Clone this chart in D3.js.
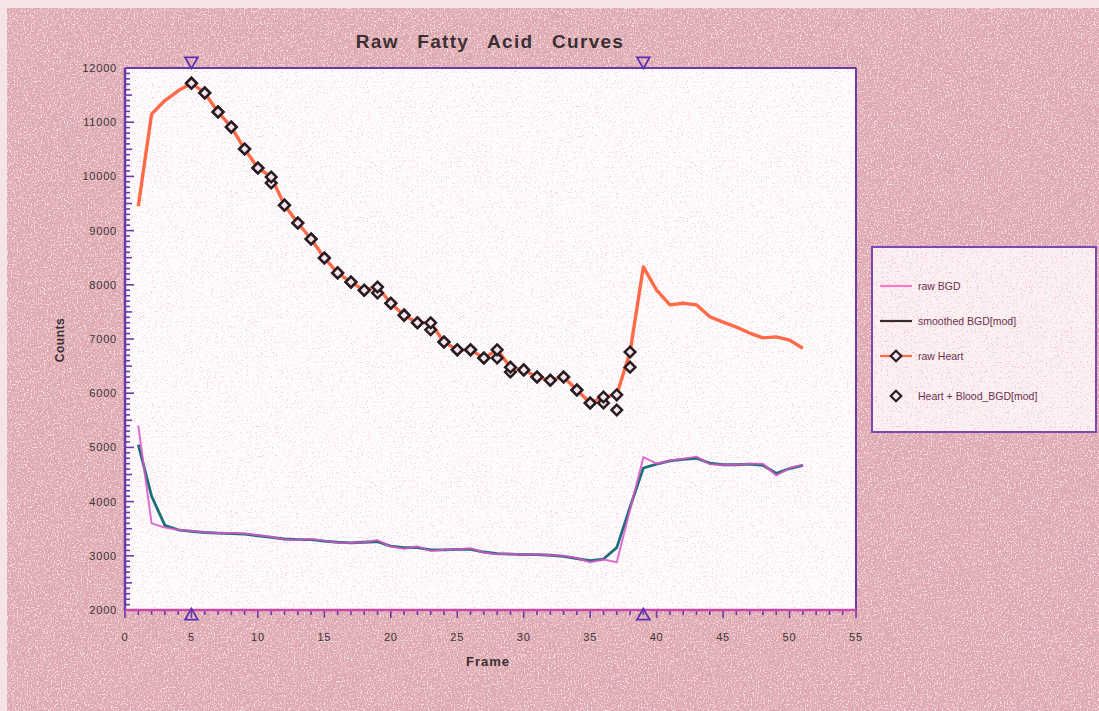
<!DOCTYPE html>
<html>
<head>
<meta charset="utf-8">
<script src="https://cdn.jsdelivr.net/npm/d3@7/dist/d3.min.js"></script>
<style>
  html, body { margin: 0; padding: 0; background: #f4e4e6; }
  svg { display: block; }
  text { font-family: "Liberation Sans", Arial, sans-serif; }
</style>
</head>
<body>
<svg></svg>
<script>
// frames and series
const frames = d3.range(1, 52);
const rawBGD = [5400, 3600, 3520, 3480, 3460, 3430, 3420, 3420, 3410, 3380,
  3350, 3300, 3290, 3310, 3280, 3240, 3240, 3250, 3290, 3170,
  3130, 3170, 3090, 3110, 3120, 3140, 3060, 3030, 3040, 3020,
  3030, 3010, 3000, 2960, 2880, 2930, 2880, 3850, 4820, 4700,
  4760, 4790, 4830, 4690, 4680, 4680, 4700, 4700, 4480, 4620, 4680];
const smoothBGD = [5050, 4100, 3560, 3480, 3450, 3430, 3420, 3410, 3400, 3370,
  3340, 3310, 3300, 3300, 3270, 3250, 3240, 3250, 3260, 3180,
  3150, 3150, 3110, 3110, 3120, 3120, 3070, 3040, 3030, 3020,
  3020, 3010, 2990, 2950, 2910, 2940, 3150, 3900, 4620, 4690,
  4750, 4780, 4800, 4710, 4680, 4680, 4690, 4670, 4520, 4610, 4670];
const rawHeart = [9450, 11150, 11400, 11580, 11720, 11540, 11190, 10910, 10505, 10155,
  9990, 9470, 9140, 8845, 8495, 8220, 8050, 7900, 7960, 7660,
  7440, 7300, 7300, 6945, 6800, 6800, 6650, 6800, 6480, 6430,
  6300, 6240, 6300, 6060, 5820, 5930, 5970, 6760, 8330, 7900,
  7630, 7660, 7630, 7410, 7310, 7220, 7110, 7020, 7040, 6980, 6830];
// diamond markers only between the two frame cursors
const markFrames = d3.range(5, 39);
const heartBlood = [11720, 11540, 11190, 10910, 10505, 10155, 9880, 9470, 9140, 8845,
  8495, 8220, 8050, 7900, 7850, 7660, 7440, 7300, 7170, 6945,
  6800, 6800, 6650, 6650, 6390, 6430, 6300, 6240, 6300, 6060,
  5820, 5820, 5690, 6480];
const cursors = [5, 39];
const xTicks = d3.range(0, 56, 5);
const yTicks = d3.range(2000, 12001, 1000);
const legendItems = ["raw BGD", "smoothed BGD[mod]", "raw  Heart", "Heart + Blood_BGD[mod]"];

const W = 1099, H = 711;
const svg = d3.select("svg").attr("width", W).attr("height", H);

const L = 125, R = 856, T = 68, B = 610;
const x = d3.scaleLinear().domain([0, 55]).range([L, R]);
const y = d3.scaleLinear().domain([2000, 12000]).range([B, T]);

// speckle textures
const defs = svg.append("defs");
function speckle(id, seed, freq, color, a, b) {
  const f = defs.append("filter").attr("id", id)
    .attr("x", 0).attr("y", 0).attr("width", "100%").attr("height", "100%");
  f.append("feTurbulence").attr("type", "fractalNoise")
    .attr("baseFrequency", freq).attr("numOctaves", 2).attr("seed", seed).attr("result", "n");
  const c = d3.color(color);
  f.append("feColorMatrix").attr("in", "n").attr("type", "matrix")
    .attr("values", `0 0 0 0 ${c.r/255} 0 0 0 0 ${c.g/255} 0 0 0 0 ${c.b/255} ${a} 0 0 0 ${b}`);
}
speckle("lightN", 3, 0.7, "#fff4f4", -5, 2.4);
speckle("darkN", 7, 0.8, "#a08080", 5, -2.85);
speckle("plotN", 11, 0.8, "#e07090", 6, -3.6);

// page background
svg.append("rect").attr("x", 7).attr("y", 8).attr("width", W - 7).attr("height", H - 8)
  .attr("fill", "#e0a8b0");
svg.append("rect").attr("x", 7).attr("y", 8).attr("width", W - 7).attr("height", H - 8)
  .attr("fill", "#fff").attr("filter", "url(#lightN)").attr("opacity", 0.75);
svg.append("rect").attr("x", 7).attr("y", 8).attr("width", W - 7).attr("height", H - 8)
  .attr("fill", "#fff").attr("filter", "url(#darkN)").attr("opacity", 0.45);

// plot area
svg.append("rect").attr("x", L).attr("y", T).attr("width", R - L).attr("height", B - T)
  .attr("fill", "#fdfbfb");
svg.append("rect").attr("x", L).attr("y", T).attr("width", R - L).attr("height", B - T)
  .attr("fill", "#fff").attr("filter", "url(#plotN)").attr("opacity", 0.6);

// title
svg.append("text").attr("x", 490).attr("y", 48).attr("text-anchor", "middle")
  .attr("font-size", 19).attr("font-weight", "bold").attr("fill", "#3a3034")
  .attr("word-spacing", 12).attr("letter-spacing", 1.3)
  .text("Raw Fatty Acid Curves");

// axes
const yAxis = svg.append("g");
yAxis.selectAll("line.minor").data(d3.range(2000, 12001, 100)).join("line")
  .attr("x1", L).attr("x2", d => L + (d % 1000 === 0 ? 9 : d % 500 === 0 ? 7 : 5))
  .attr("y1", d => y(d)).attr("y2", d => y(d))
  .attr("stroke", "#6a3aa8").attr("stroke-width", 1.6);
yAxis.selectAll("text").data(yTicks).join("text")
  .attr("x", L - 8).attr("y", d => y(d) + 4).attr("text-anchor", "end")
  .attr("font-size", 11).attr("fill", "#3a3438").attr("letter-spacing", 0.8)
  .text(d => d);

const xAxis = svg.append("g");
xAxis.selectAll("line").data(d3.range(0, 56, 1)).join("line")
  .attr("x1", d => x(d)).attr("x2", d => x(d))
  .attr("y1", B).attr("y2", d => B + (d % 5 === 0 ? 8 : 5))
  .attr("stroke", "#6a3aa8").attr("stroke-width", 1.6);
xAxis.selectAll("text").data(xTicks).join("text")
  .attr("x", d => x(d)).attr("y", 641).attr("text-anchor", "middle")
  .attr("font-size", 11).attr("fill", "#3a3438").attr("letter-spacing", 0.8)
  .text(d => d);

// frame
svg.append("line").attr("x1", L).attr("x2", R).attr("y1", T).attr("y2", T)
  .attr("stroke", "#6a3aa8").attr("stroke-width", 2);
svg.append("line").attr("x1", R).attr("x2", R).attr("y1", T).attr("y2", B)
  .attr("stroke", "#6a3aa8").attr("stroke-width", 2);
svg.append("line").attr("x1", L).attr("x2", L).attr("y1", T).attr("y2", B + 1)
  .attr("stroke", "#6a3aa8").attr("stroke-width", 2.5);
svg.append("line").attr("x1", L).attr("x2", R).attr("y1", B).attr("y2", B)
  .attr("stroke", "#c84aa8").attr("stroke-width", 2.5);

// axis titles
svg.append("text").attr("transform", "translate(64,340) rotate(-90)")
  .attr("text-anchor", "middle").attr("font-size", 12).attr("font-weight", "bold")
  .attr("fill", "#3a3034").attr("letter-spacing", 0.5).text("Counts");
svg.append("text").attr("x", 488).attr("y", 666).attr("text-anchor", "middle")
  .attr("font-size", 13).attr("font-weight", "bold").attr("fill", "#3a3034")
  .attr("letter-spacing", 1).text("Frame");

// cursors
const tri = d3.symbol().type(d3.symbolTriangle).size(70);
svg.selectAll("path.ctop").data(cursors).join("path").attr("class", "ctop")
  .attr("d", tri).attr("transform", d => `translate(${x(d)},${T - 7}) rotate(180)`)
  .attr("fill", "none").attr("stroke", "#5a30b0").attr("stroke-width", 1.8);
svg.selectAll("path.cbot").data(cursors).join("path").attr("class", "cbot")
  .attr("d", tri).attr("transform", d => `translate(${x(d)},${B + 6})`)
  .attr("fill", "none").attr("stroke", "#5a30b0").attr("stroke-width", 1.8);

// curves
const line = vals => d3.line().x((d, i) => x(frames[i])).y(d => y(d))(vals);
svg.append("path").attr("d", line(smoothBGD)).attr("fill", "none")
  .attr("stroke", "#1e6f7a").attr("stroke-width", 2.8).attr("stroke-linejoin", "round");
svg.append("path").attr("d", line(rawBGD)).attr("fill", "none")
  .attr("stroke", "#d856c8").attr("stroke-width", 2).attr("stroke-linejoin", "round")
  .attr("opacity", 0.85);
svg.append("path").attr("d", line(rawHeart)).attr("fill", "none")
  .attr("stroke", "#ff6a48").attr("stroke-width", 3.4).attr("stroke-linejoin", "round");

const diamond = d3.symbol().type(d3.symbolSquare).size(56);
const drawDiamonds = (vals, cls) => svg.selectAll("path." + cls).data(vals).join("path")
  .attr("class", cls).attr("d", diamond)
  .attr("transform", (d, i) => `translate(${x(markFrames[i])},${y(d)}) rotate(45)`)
  .attr("fill", "#f6e6ea").attr("stroke", "#2a1c24").attr("stroke-width", 2.5);
drawDiamonds(heartBlood, "hb");
drawDiamonds(markFrames.map(f => rawHeart[f - 1]), "rh");

// legend
const lg = svg.append("g");
lg.append("rect").attr("x", 872).attr("y", 247).attr("width", 224).attr("height", 185)
  .attr("fill", "#fbf0f2").attr("stroke", "#7a48b0").attr("stroke-width", 2);
lg.append("rect").attr("x", 873).attr("y", 248).attr("width", 222).attr("height", 183)
  .attr("fill", "#fff").attr("filter", "url(#plotN)").attr("opacity", 0.8);
const legY = [286, 321, 356, 396];
const legColor = ["#ff78c8", "#3a2a2a", "#ff6a48", null];
legendItems.forEach((t, i) => {
  if (legColor[i]) lg.append("line").attr("x1", 880).attr("x2", 912)
    .attr("y1", legY[i]).attr("y2", legY[i]).attr("stroke", legColor[i]).attr("stroke-width", 2.2);
  if (i >= 2) lg.append("path").attr("d", diamond)
    .attr("transform", `translate(896,${legY[i]}) rotate(45)`)
    .attr("fill", "#f6e6ea").attr("stroke", "#2a1c24").attr("stroke-width", 2.2);
  lg.append("text").attr("x", 918).attr("y", legY[i] + 4).attr("font-size", 10.5)
    .attr("fill", "#6a3050").text(t);
});
</script>
</body>
</html>
